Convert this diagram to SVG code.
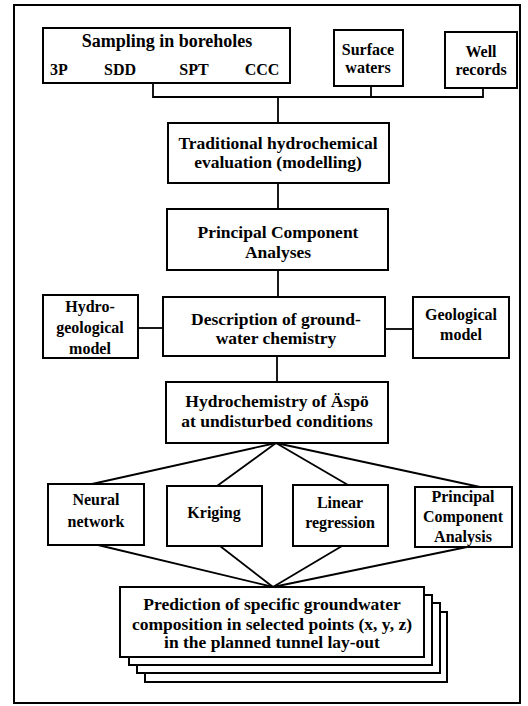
<svg xmlns="http://www.w3.org/2000/svg" width="528" height="706" viewBox="0 0 528 706">
<style>
.box{fill:#fff;stroke:#000;stroke-width:2}
.frame{fill:none;stroke:#000;stroke-width:2}
.ln{fill:none;stroke:#000;stroke-width:1.8}
text{font-weight:bold;fill:#000;text-anchor:middle}
.m{font-size:17.5px}
.t{font-size:18px}
.s{font-size:16px}
</style>
<rect width="528" height="706" fill="#fff"/>
<rect class="frame" x="14" y="5" width="506" height="698"/>
<g id="connectors">
<polyline class="ln" points="153,83 153,97 483,97 483,88"/>
<line class="ln" x1="371" y1="86" x2="371" y2="97"/>
<line class="ln" x1="278" y1="97" x2="278" y2="123"/>
<line class="ln" x1="278" y1="183" x2="278" y2="209"/>
<line class="ln" x1="278" y1="270" x2="278" y2="297"/>
<line class="ln" x1="138" y1="328" x2="163" y2="328"/>
<line class="ln" x1="385" y1="329" x2="413" y2="329"/>
<line class="ln" x1="277" y1="356" x2="277" y2="382"/>
<line class="ln" x1="276" y1="443" x2="92" y2="484"/>
<line class="ln" x1="276" y1="443" x2="217" y2="486"/>
<line class="ln" x1="276" y1="443" x2="348" y2="485"/>
<line class="ln" x1="276" y1="443" x2="480" y2="487"/>
<line class="ln" x1="98" y1="545" x2="273" y2="587"/>
<line class="ln" x1="220" y1="546" x2="273" y2="587"/>
<line class="ln" x1="342" y1="546" x2="273" y2="587"/>
<line class="ln" x1="467" y1="547" x2="273" y2="587"/>
</g>
<g font-family="'Liberation Serif', Tinos, 'Times New Roman', 'DejaVu Serif', serif">
<g id="sampling">
<rect class="box" x="43" y="28" width="247" height="55"/>
<text class="t" x="167" y="47">Sampling in boreholes</text>
<text class="s" x="59" y="75">3P</text>
<text class="s" x="120" y="75">SDD</text>
<text class="s" x="194" y="75">SPT</text>
<text class="s" x="262" y="75">CCC</text>
</g>
<g id="surface">
<rect class="box" x="334" y="30" width="69" height="56"/>
<text class="s" x="368" y="55">Surface</text>
<text class="s" x="368" y="73">waters</text>
</g>
<g id="well">
<rect class="box" x="445" y="32" width="72" height="56"/>
<text class="s" x="481" y="57">Well</text>
<text class="s" x="481" y="75">records</text>
</g>
<g id="traditional">
<rect class="box" x="168" y="123" width="221" height="60"/>
<text class="m" x="278" y="149">Traditional hydrochemical</text>
<text class="m" x="278" y="168">evaluation (modelling)</text>
</g>
<g id="pca1">
<rect class="box" x="167" y="209" width="221" height="61"/>
<text class="m" x="278" y="238">Principal Component</text>
<text class="m" x="278" y="258">Analyses</text>
</g>
<g id="hydrogeo">
<rect class="box" x="43" y="295" width="95" height="63"/>
<text class="s" x="90" y="312">Hydro-</text>
<text class="s" x="90" y="333">geological</text>
<text class="s" x="90" y="354">model</text>
</g>
<g id="description">
<rect class="box" x="163" y="297" width="222" height="59"/>
<text class="m" x="276" y="325">Description of ground-</text>
<text class="m" x="276" y="344">water chemistry</text>
</g>
<g id="geological">
<rect class="box" x="413" y="297" width="96" height="61"/>
<text class="s" x="461" y="320">Geological</text>
<text class="s" x="461" y="340">model</text>
</g>
<g id="hydrochem">
<rect class="box" x="166" y="382" width="222" height="61"/>
<text class="m" x="277" y="407">Hydrochemistry of Äspö</text>
<text class="m" x="277" y="427">at undisturbed conditions</text>
</g>
<g id="neural">
<rect class="box" x="48" y="484" width="96" height="61"/>
<text class="s" x="96" y="505">Neural</text>
<text class="s" x="96" y="527">network</text>
</g>
<g id="kriging">
<rect class="box" x="167" y="486" width="95" height="60"/>
<text class="s" x="214" y="518">Kriging</text>
</g>
<g id="linear">
<rect class="box" x="293" y="485" width="95" height="61"/>
<text class="s" x="340" y="508">Linear</text>
<text class="s" x="340" y="528">regression</text>
</g>
<g id="pca2">
<rect class="box" x="415" y="487" width="97" height="60"/>
<text class="s" x="463" y="502">Principal</text>
<text class="s" x="463" y="522">Component</text>
<text class="s" x="463" y="542">Analysis</text>
</g>
<g id="prediction">
<rect class="box" x="145" y="612" width="302" height="70"/>
<rect class="box" x="137" y="603" width="303" height="70"/>
<rect class="box" x="129" y="595" width="303" height="70"/>
<rect class="box" x="120" y="587" width="304" height="70"/>
<text class="m" x="272" y="610">Prediction of specific groundwater</text>
<text class="m" x="272" y="630">composition in selected points (x, y, z)</text>
<text class="m" x="272" y="648">in the planned tunnel lay-out</text>
</g>
</g>
</svg>
